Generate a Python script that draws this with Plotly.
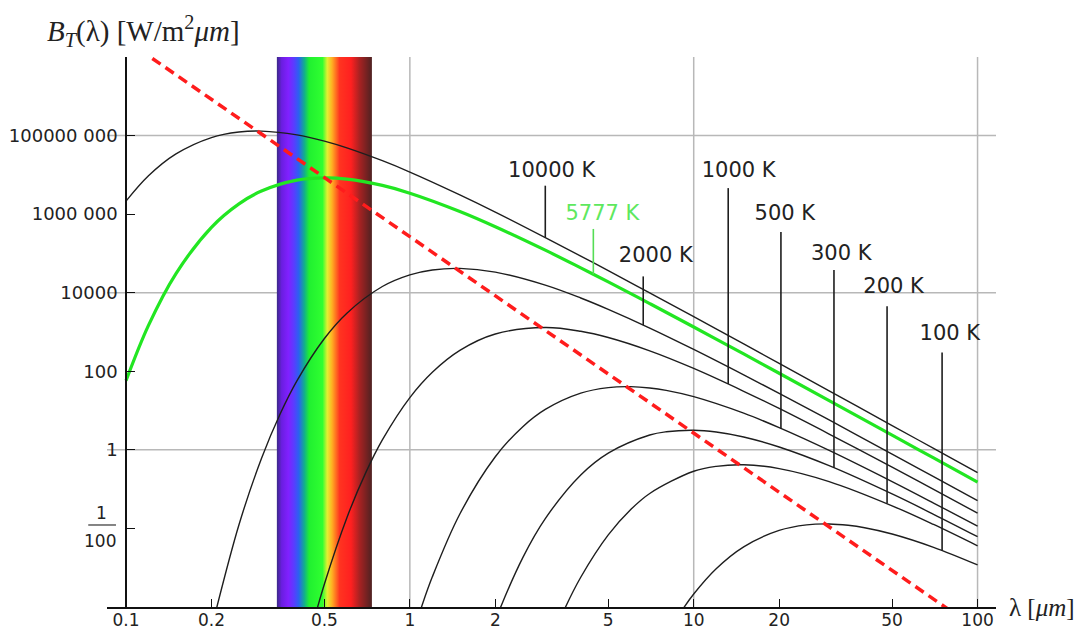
import plotly.graph_objects as go
import math

# ---------------- data (wavelength in µm, B in W/m²µm) ----------------
lam_10000 = [0.1, 0.12, 0.15, 0.2, 0.25, 0.3, 0.4, 0.5, 0.6, 0.8, 1, 1.5, 2, 3, 4, 5, 7, 10, 15, 20, 30, 50, 70, 100]
B_10000 = [2.14e6, 9.45e6, 3.41e7, 8.90e7, 1.23e8, 1.30e8, 1.04e8, 7.23e7, 4.87e7, 2.29e7, 1.18e7, 3.10e6,
           1.13e6, 2.53e5, 8.55e4, 3.64e4, 9.88e3, 2.45e3, 496, 159, 31.8, 4.15, 1.09, 0.262]

lam_5777 = [0.1, 0.12, 0.15, 0.2, 0.25, 0.3, 0.4, 0.5, 0.6, 0.8, 1, 1.5, 2, 3, 4, 5, 7, 10, 15, 20, 30, 50, 70, 100]
B_5777 = [57.8, 1474, 3.07e4, 4.63e5, 1.83e6, 3.87e6, 7.32e6, 8.38e6, 7.79e6, 5.38e6, 3.42e6, 1.17e6,
          4.79e5, 1.21e5, 4.28e4, 1.88e4, 5.28e3, 1340, 276, 89.3, 18.0, 2.37, 0.622, 0.150]

lam_2000 = [0.2, 0.25, 0.3, 0.35, 0.4, 0.5, 0.6, 0.8, 1, 1.2, 1.5, 2, 3, 4, 5, 7, 10, 15, 20, 30, 50, 70, 100]
B_2000 = [2.83e-5, 0.0124, 0.601, 8.54, 57.2, 684, 3.02e3, 1.44e4, 2.85e4, 3.80e4, 4.16e4, 3.34e4,
          1.56e4, 7.34e3, 3.77e3, 1.26e3, 360, 81.1, 27.4, 5.76, 0.783, 0.208, 0.0508]

lam_1000 = [0.45, 0.5, 0.6, 0.7, 0.8, 1, 1.2, 1.5, 2, 3, 4, 5, 7, 10, 15, 20, 30, 50, 70, 100]
B_1000 = [2.7e-5, 3.86e-4, 0.0188, 0.267, 1.79, 21.4, 94.5, 341, 890, 1300, 1042, 723, 331, 118,
          31.0, 11.3, 2.53, 0.364, 0.0988, 0.0245]

lam_500 = [1, 1.1, 1.2, 1.5, 2, 2.5, 3, 4, 5, 6, 7, 8, 10, 15, 20, 30, 50, 70, 100]
B_500 = [1.2e-5, 1.02e-4, 5.86e-4, 0.0233, 0.668, 3.89, 10.7, 27.8, 38.5, 40.6, 37.6, 32.6, 22.6,
         8.59, 3.68, 0.969, 0.156, 0.0443, 0.0114]

lam_300 = [1.8, 2, 2.5, 3, 4, 5, 7, 8, 10, 12, 15, 20, 30, 50, 70, 100]
B_300 = [5.4e-6, 4.56e-5, 1.81e-3, 0.0178, 0.230, 0.828, 2.39, 2.89, 3.16, 2.85, 2.13, 1.18, 0.395,
         0.0753, 0.0229, 6.16e-3]

lam_200 = [3, 3.5, 4, 5, 6, 7, 10, 12, 15, 20, 30, 50, 70, 100]
B_200 = [6.0e-6, 8.54e-5, 5.72e-4, 6.84e-3, 0.0302, 0.0776, 0.285, 0.380, 0.416, 0.334, 0.156,
         0.0377, 0.0126, 3.6e-3]

lam_100 = [8, 9, 10, 12, 15, 20, 25, 30, 35, 40, 50, 70, 100]
B_100 = [1.79e-5, 7.32e-5, 2.14e-4, 9.45e-4, 3.41e-3, 8.90e-3, 0.0123, 0.0130, 0.0120, 0.0104,
         7.23e-3, 3.31e-3, 1.18e-3]

# Wien displacement line (peaks), endpoints read at the chart edges
wien_lam = [0.1, 100]
wien_B = [2.67e10, 2.67e-5]

# curve labels and their leader lines
label_text = ["10000 K", "5777 K", "2000 K", "1000 K", "500 K", "300 K", "200 K", "100 K"]
label_lam = [3.16, 4.77, 7.35, 14.4, 20.95, 33.1, 50.6, 79.9]
label_B = [1.17e7, 9.7e5, 8.0e4, 1.17e7, 9.9e5, 9.1e4, 1.37e4, 845]
leader_lam = [3.0, 4.43, 6.64, 13.23, 20.29, 31.2, 48.0, 75.0]
leader_top = [5.3e6, 4.2e5, 2.6e4, 4.6e6, 3.5e5, 3.8e4, 4.5e3, 299]
leader_bottom = [2.53e5, 2.94e4, 1.50e3, 47.5, 3.52, 0.351, 0.0428, 2.75e-3]

# visible spectrum band
band_lam = [0.34, 0.735]
band_scale = [
    [0.00, "#3a2a86"], [0.05, "#6a1ee0"], [0.12, "#8020ff"], [0.18, "#5a3cff"],
    [0.23, "#2a62f0"], [0.29, "#12b08a"], [0.34, "#20f030"], [0.48, "#30ff30"],
    [0.53, "#e2f032"], [0.58, "#ffb022"], [0.66, "#ff3420"], [0.78, "#ff2020"],
    [0.87, "#a82222"], [1.00, "#4e2222"],
]

# axes
x_tickvals = [0.1, 0.2, 0.5, 1, 2, 5, 10, 20, 50, 100]
x_ticktext = ["0.1", "0.2", "0.5", "1", "2", "5", "10", "20", "50", "100"]
y_tickvals = [1e8, 1e6, 1e4, 100, 1, 0.01]
y_ticktext = ["100000 000", "1000 000", "10000", "100", "1", " "]
x_grid = [1, 10, 100]
y_grid = [1e8, 1e4, 1]
x_range = [-1.067, 2.065]
y_range = [-4, 10]

BLACK = "#1e1e1e"
GREEN = "#22e622"
SANS = "DejaVu Sans"
SERIF = "Liberation Serif"

fig = go.Figure()

# spectrum band
fig.add_trace(go.Scatter(
    x=[band_lam[0], band_lam[1], band_lam[1], band_lam[0], band_lam[0]],
    y=[10 ** y_range[0], 10 ** y_range[0], 10 ** y_range[1], 10 ** y_range[1], 10 ** y_range[0]],
    fill="toself", mode="lines", line=dict(width=0),
    fillgradient=dict(type="horizontal", colorscale=band_scale),
    hoverinfo="skip", showlegend=False))

# black Planck curves
for lam, B in [(lam_10000, B_10000), (lam_2000, B_2000), (lam_1000, B_1000), (lam_500, B_500),
               (lam_300, B_300), (lam_200, B_200), (lam_100, B_100)]:
    fig.add_trace(go.Scatter(x=lam, y=B, mode="lines", line=dict(color=BLACK, width=1.4, shape="spline"),
                             hoverinfo="skip", showlegend=False))

# solar curve
fig.add_trace(go.Scatter(x=lam_5777, y=B_5777, mode="lines", line=dict(color=GREEN, width=3.2, shape="spline"),
                         hoverinfo="skip", showlegend=False))

# Wien line
fig.add_trace(go.Scatter(x=wien_lam, y=wien_B, mode="lines",
                         line=dict(color="#ff1c1c", width=3.5, dash="10px,6px"),
                         hoverinfo="skip", showlegend=False))

# leader lines
for i in range(len(label_text)):
    col = "#55dd55" if label_text[i] == "5777 K" else BLACK
    fig.add_trace(go.Scatter(x=[leader_lam[i], leader_lam[i]], y=[leader_bottom[i], leader_top[i]],
                             mode="lines", line=dict(color=col, width=1.6),
                             hoverinfo="skip", showlegend=False))

# labels
fig.add_trace(go.Scatter(
    x=label_lam, y=label_B, mode="text", text=label_text, textposition="middle center",
    textfont=dict(family=SANS, size=21,
                  color=["#5ee85e" if t == "5777 K" else "#222222" for t in label_text]),
    hoverinfo="skip", showlegend=False))

# grid lines
shapes = []
for v in x_grid:
    shapes.append(dict(type="line", xref="x", yref="paper", x0=v, x1=v, y0=0, y1=1,
                       line=dict(color="#b8b8b8", width=1.5), layer="below"))
for v in y_grid:
    shapes.append(dict(type="line", xref="paper", yref="y", x0=0, x1=1, y0=v, y1=v,
                       line=dict(color="#b8b8b8", width=1.5), layer="below"))
# fraction bar of the 1/100 tick label
shapes.append(dict(type="line", xref="paper", yref="paper", x0=-0.0211, x1=0.0101, y0=0.1491, y1=0.1491,
                   line=dict(color="#333333", width=1.2)))

ypos = (math.log10(0.1) - x_range[0]) / (x_range[1] - x_range[0])

fig.update_layout(
    width=1081, height=632, autosize=False,
    margin=dict(l=107, r=85, t=57, b=25),
    paper_bgcolor="white", plot_bgcolor="white",
    shapes=shapes,
    xaxis=dict(type="log", range=x_range, tickvals=x_tickvals, ticktext=x_ticktext,
               ticks="inside", ticklen=8, tickwidth=1.3, tickcolor="#111111",
               showline=True, linecolor="#111111", linewidth=1.6, showgrid=False, zeroline=False,
               automargin=False, ticklabelstandoff=-3,
               tickfont=dict(family=SANS, size=17, color="#222222"), anchor="y"),
    yaxis=dict(type="log", range=y_range, tickvals=y_tickvals, ticktext=y_ticktext,
               anchor="free", position=ypos, automargin=False,
               ticks="inside", ticklen=8, tickwidth=1.3, tickcolor="#111111",
               showline=True, linecolor="#111111", linewidth=1.6, showgrid=False, zeroline=False,
               ticklabelstandoff=4,
               tickfont=dict(family=SANS, size=18, color="#222222")),
    annotations=[
        dict(text="<i>B</i><sub><i>T</i></sub>(λ) [W/m<sup>2</sup><i>μm</i>]", xref="paper", yref="paper",
             x=-0.0697, y=1.0473, xanchor="left", yanchor="middle", showarrow=False,
             font=dict(family=SERIF, size=29, color="#222222")),
        dict(text="λ [<i>μm</i>]", xref="paper", yref="paper", x=1.0124, y=0.0,
             xanchor="left", yanchor="middle", showarrow=False,
             font=dict(family=SERIF, size=25, color="#222222")),
        dict(text="1", xref="paper", yref="paper", x=-0.0060, y=0.1704, xanchor="center", yanchor="middle",
             showarrow=False, font=dict(family=SANS, size=17, color="#222222")),
        dict(text="100", xref="paper", yref="paper", x=-0.0079, y=0.1205, xanchor="center", yanchor="middle",
             showarrow=False, font=dict(family=SANS, size=17, color="#222222")),
    ],
    showlegend=False,
)

fig.write_html("out.html", config={"displayModeBar": False},
               post_script="document.body.style.margin='0';")
